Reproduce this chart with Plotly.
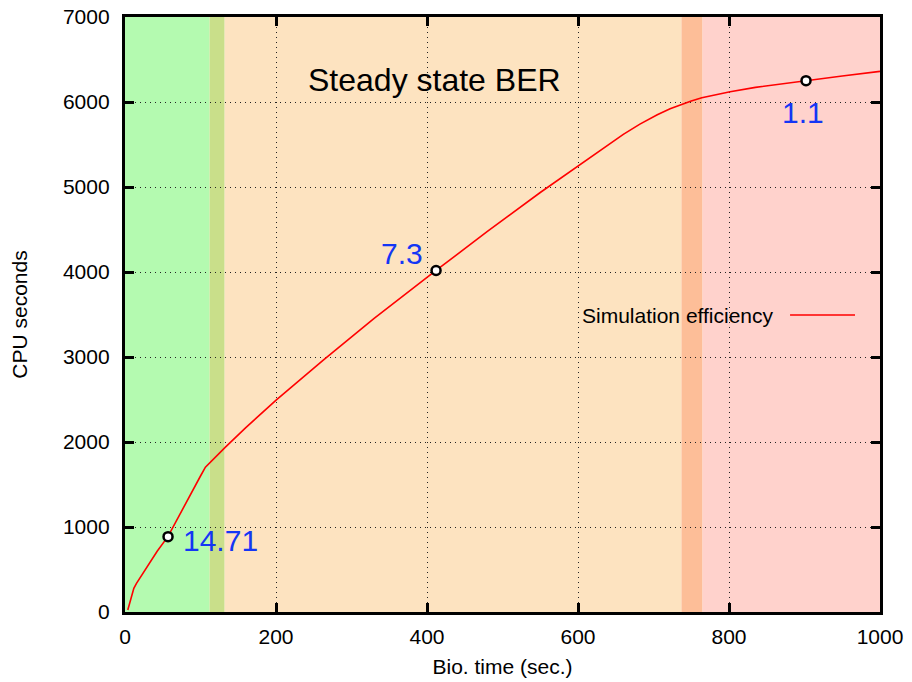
import plotly.graph_objects as go

# Curve data (Bio. time sec, CPU seconds)
bio_time = [3.7, 8, 11.7, 15.2, 27, 42.6, 57, 66.8, 80, 100, 106.5, 120, 133, 160, 200.5,
            263, 330, 412, 480, 550, 600.7, 638, 660, 682, 695, 705, 722, 737.5, 750, 764,
            780, 801.5, 835, 867.6, 902, 950, 1000]
cpu_sec = [23, 150, 279, 337, 494, 715, 890, 1055, 1275, 1600, 1704, 1830, 1939, 2170,
           2496, 2966, 3455, 4018, 4477, 4935, 5250, 5485, 5619, 5740, 5805, 5849, 5920,
           5974, 6013, 6050, 6082, 6120, 6172, 6212, 6251, 6305, 6360]

# Highlighted points with efficiency labels
mark_x = [57, 412, 902]
mark_y = [886, 4018, 6251]
mark_labels = ["14.71", "7.3", "1.1"]
label_x = [126, 367, 898]
label_y = [847, 4214, 5874]

# Background regions
region_start = [0, 112, 132, 737, 765]
region_end = [112, 132, 737, 765, 1000]
region_color = ["#b4fab0", "#c9df8a", "#fde3c0", "#fdbe98", "#ffd2cc"]

x_ticks = [0, 200, 400, 600, 800, 1000]
y_ticks = [0, 1000, 2000, 3000, 4000, 5000, 6000, 7000]

FONT = "Liberation Sans, Arial, Helvetica, sans-serif"

fig = go.Figure()

fig.add_trace(go.Scatter(x=bio_time, y=cpu_sec, mode="lines",
                         line=dict(color="#ff0000", width=1.6),
                         name="Simulation efficiency", showlegend=False))
fig.add_trace(go.Scatter(x=mark_x, y=mark_y, mode="markers",
                         marker=dict(size=9, color="white",
                                     line=dict(color="black", width=2.5)),
                         showlegend=False))

shapes = []
for s, e, c in zip(region_start, region_end, region_color):
    shapes.append(dict(type="rect", xref="x", yref="y", x0=s, x1=e, y0=0, y1=7000,
                       fillcolor=c, line=dict(width=0), layer="below"))
# legend key line
shapes.append(dict(type="line", xref="paper", yref="paper",
                   x0=(790 - 124.5) / 755.5, x1=(855 - 124.5) / 755.5,
                   y0=(612 - 315) / 595, y1=(612 - 315) / 595,
                   line=dict(color="#ff0000", width=1.6)))

annotations = []
for lx, ly, t in zip(label_x, label_y, mark_labels):
    annotations.append(dict(x=lx, y=ly, text=t, showarrow=False,
                            font=dict(family=FONT, size=30, color="#1436f5")))
annotations.append(dict(x=410, y=6263, text="Steady state BER", showarrow=False,
                        font=dict(family=FONT, size=32, color="black")))
annotations.append(dict(x=(776 - 124.5) / 755.5, y=(612 - 315) / 595, xref="paper",
                        yref="paper", xanchor="right", text="Simulation efficiency",
                        showarrow=False, font=dict(family=FONT, size=21, color="black")))

axis_common = dict(showline=True, linecolor="black", linewidth=3.3, mirror="ticks",
                   ticks="inside", ticklen=9, tickwidth=3, tickcolor="black",
                   showgrid=True, gridcolor="#222222", gridwidth=1, griddash="1px,4px",
                   zeroline=False, automargin=False,
                   tickfont=dict(family=FONT, size=21, color="black"))

fig.update_layout(
    width=912, height=682,
    margin=dict(l=125, r=32, t=17, b=70),
    paper_bgcolor="white", plot_bgcolor="white",
    shapes=shapes, annotations=annotations,
    xaxis=dict(range=[0, 1000], tickvals=x_ticks, ticklabelstandoff=4,
               title=dict(text="Bio. time (sec.)", standoff=12,
                          font=dict(family=FONT, size=21, color="black")),
               **axis_common),
    yaxis=dict(range=[0, 7000], tickvals=y_ticks, ticklabelstandoff=8,
               title=dict(text="CPU seconds", standoff=30,
                          font=dict(family=FONT, size=21, color="black")),
               **axis_common),
)

fig.write_html("out.html")
